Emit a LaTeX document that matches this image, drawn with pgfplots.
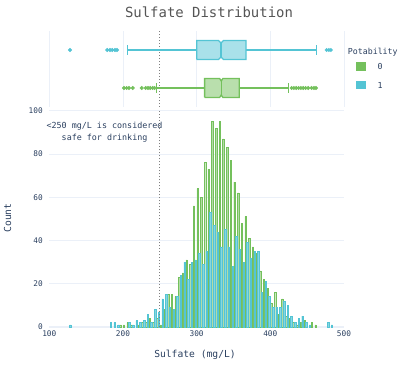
\documentclass[border=0pt]{standalone}
\usepackage{pgfplots}
\pgfplotsset{compat=1.18}
\usepackage{pgfplotstable}
\usepackage{fontspec}
\setmainfont{DejaVu Sans Mono}
\definecolor{gline}{RGB}{116,192,92}
\definecolor{bline}{RGB}{84,196,212}
\definecolor{gridc}{RGB}{235,240,248}
\definecolor{txt}{RGB}{42,63,95}
\definecolor{ttl}{RGB}{85,85,85}

\pgfplotstableread{
x y
197.5 1
202.5 1
207.5 2
212.5 1
222.5 1
227.5 2
232.5 2
237.5 4
242.5 2
247.5 4
252.5 1
257.5 8
262.5 15
267.5 15
272.5 14
277.5 23
282.5 25
287.5 31
292.5 29
297.5 56
302.5 64
307.5 60
312.5 76
317.5 73
322.5 95
327.5 92
332.5 95
337.5 87
342.5 83
347.5 77
352.5 67
357.5 62
362.5 48
367.5 51
372.5 41
377.5 37
382.5 34
387.5 26
392.5 22
397.5 18
402.5 11
407.5 16
412.5 6
417.5 13
422.5 5
427.5 4
432.5 2
437.5 1
442.5 2
447.5 3
457.5 2
462.5 1
}\greendata

\pgfplotstableread{
x y
127.5 1
182.5 2
187.5 2
192.5 1
207.5 2
212.5 1
217.5 3
222.5 2
227.5 3
232.5 6
237.5 2
242.5 8
247.5 7
252.5 13
257.5 15
262.5 9
267.5 8
272.5 14
277.5 24
282.5 30
287.5 22
292.5 30
297.5 31
302.5 34
307.5 29
312.5 35
317.5 53
322.5 47
327.5 44
332.5 37
337.5 45
342.5 37
347.5 28
352.5 42
357.5 36
362.5 30
367.5 39
372.5 32
377.5 35
382.5 35
387.5 16
392.5 21
397.5 14
402.5 9
407.5 9
412.5 9
417.5 12
422.5 10
427.5 5
432.5 2
437.5 4
442.5 5
447.5 2
452.5 1
477.5 2
482.5 1
}\bluedata

\begin{document}
\begin{tikzpicture}[x=1bp,y=1bp]
\path[use as bounding box] (0bp,0bp) rectangle (405bp,371bp);

% main histogram
\begin{axis}[
  at={(49.3bp,44bp)}, anchor=south west,
  width=294.7bp, height=216.3bp, scale only axis,
  xmin=100, xmax=500, ymin=0, ymax=100,
  axis line style={draw=none},
  major tick length=0pt,
  xtick={100,200,300,400,500},
  ytick={0,20,40,60,80,100},
  ymajorgrids,
  grid style={color=gridc, line width=0.8bp},
  tick label style={font=\fontsize{7.8}{9}\selectfont, text=txt},
  yticklabel style={xshift=-3bp},
  /pgf/number format/assume math mode=true,
  clip=false,
]
\addplot[gridc, line width=1.6bp, forget plot] coordinates {(100,0) (500,0)};
\addplot[ybar, bar width=2.0, bar shift=-1.15, fill=gline!55, draw=gline, line width=0.45bp] table[x=x,y=y] {\greendata};
\addplot[ybar, bar width=2.0, bar shift=1.15, fill=bline!70, draw=bline, line width=0.45bp] table[x=x,y=y] {\bluedata};
\addplot[gray, dotted, line width=1bp] coordinates {(250,0) (250,100)};
\node[align=center, text=txt, font=\fontsize{8.4}{11.3}\selectfont] at (axis cs:175,90) {<250 mg/L is considered\\safe for drinking};
\end{axis}

% marginal box plots
\begin{axis}[
  at={(49.3bp,264bp)}, anchor=south west,
  width=294.7bp, height=76bp, scale only axis,
  xmin=100, xmax=500, ymin=-0.5, ymax=1.5,
  axis line style={draw=none},
  major tick length=0pt,
  xtick={100,200,300,400,500}, xticklabels={},
  ytick=\empty,
  xmajorgrids,
  grid style={color=gridc, line width=0.8bp},
  clip=false,
]
\addplot[gray, dotted, line width=1bp] coordinates {(250,-0.5) (250,1.5)};
% blue box (Potability 1)
\addplot[draw=bline, line width=1.3bp] coordinates {(206.3,1) (300,1)};
\addplot[draw=bline, line width=1.3bp] coordinates {(367,1) (462.8,1)};
\addplot[draw=bline, line width=1.3bp] coordinates {(206.3,0.88) (206.3,1.12)};
\addplot[draw=bline, line width=1.3bp] coordinates {(462.8,0.88) (462.8,1.12)};
\addplot[fill=bline!50, draw=bline, line width=1.3bp] coordinates {
 (300,0.75) (329.6,0.75) (333,0.815) (336.4,0.75) (367,0.75)
 (367,1.25) (336.4,1.25) (333,1.185) (329.6,1.25) (300,1.25) (300,0.75)};
\addplot[draw=bline, line width=1.3bp] coordinates {(333,0.815) (333,1.185)};
\addplot[only marks, mark=*, mark size=1.8bp, color=bline] coordinates {
 (128.1,1) (178.7,1) (182.4,1) (185.5,1) (189.2,1) (191.9,1)
 (476.4,1) (479.5,1) (482.2,1)};
% green box (Potability 0)
\addplot[draw=gline, line width=1.3bp] coordinates {(245.7,0) (310.8,0)};
\addplot[draw=gline, line width=1.3bp] coordinates {(357.8,0) (424.8,0)};
\addplot[draw=gline, line width=1.3bp] coordinates {(245.7,-0.12) (245.7,0.12)};
\addplot[draw=gline, line width=1.3bp] coordinates {(424.8,-0.12) (424.8,0.12)};
\addplot[fill=gline!50, draw=gline, line width=1.3bp] coordinates {
 (310.8,-0.25) (331.2,-0.25) (333.4,-0.185) (335.6,-0.25) (357.8,-0.25)
 (357.8,0.25) (335.6,0.25) (333.4,0.185) (331.2,0.25) (310.8,0.25) (310.8,-0.25)};
\addplot[draw=gline, line width=1.3bp] coordinates {(333.4,-0.185) (333.4,0.185)};
\addplot[only marks, mark=*, mark size=1.8bp, color=gline] coordinates {
 (201.4,0) (205,0) (208.1,0) (213.2,0) (225.4,0)
 (230.8,0) (233.9,0) (237,0) (240.3,0) (243,0)
 (428.9,0) (432,0) (435.2,0) (438.4,0) (441.5,0) (444.7,0) (447.9,0)
 (451.5,0) (456,0) (459.2,0) (461.9,0)};
\end{axis}

% title and axis titles
\node[text=ttl, font=\fontsize{14}{16}\selectfont] at (209bp,359bp) {Sulfate Distribution};
\node[text=txt, font=\fontsize{9.7}{11}\selectfont, rotate=90] at (7.5bp,153bp) {Count};
\node[text=txt, font=\fontsize{9.7}{11}\selectfont] at (195bp,16bp) {Sulfate (mg/L)};

% legend
\node[text=txt, font=\fontsize{8.3}{10}\selectfont, anchor=west, inner sep=0pt] at (347.7bp,318.7bp) {Potability};
\fill[gline] (356bp,300.3bp) rectangle (365.7bp,308.7bp);
\node[text=txt, font=\fontsize{8.3}{10}\selectfont] at (380bp,304.5bp) {0};
\fill[bline] (356bp,281.7bp) rectangle (365.7bp,290.3bp);
\node[text=txt, font=\fontsize{8.3}{10}\selectfont] at (380bp,285.9bp) {1};
\end{tikzpicture}
\end{document}
